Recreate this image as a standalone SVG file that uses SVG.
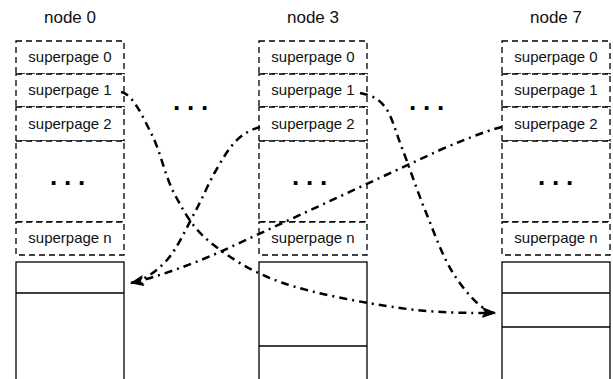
<svg xmlns="http://www.w3.org/2000/svg" width="613" height="379" viewBox="0 0 613 379">
<defs>
<style>
.title{font-family:"Liberation Sans",Arial,sans-serif;font-size:17px;fill:#111;text-anchor:middle}
.sp{font-family:"Liberation Sans",Arial,sans-serif;font-size:15px;fill:#111;text-anchor:middle}
.dots{font-family:"Liberation Sans",Arial,sans-serif;font-size:26px;font-weight:bold;fill:#000}
.dash{fill:#fff;stroke:#000;stroke-width:1.3;stroke-dasharray:6 4}
.solid{fill:#fff;stroke:#000;stroke-width:1.3}
.line{fill:none;stroke:#000;stroke-width:1.3}
.conn{fill:none;stroke:#000;stroke-width:2.5;stroke-dasharray:8 5 2 5}
</style>
<marker id="arr" markerUnits="userSpaceOnUse" viewBox="0 0 14 10" markerWidth="14" markerHeight="10" refX="13" refY="5" orient="auto">
<path d="M0,0 L14,5 L0,10 L3.5,5 Z" fill="#000"/>
</marker>
</defs>
<rect width="613" height="379" fill="#fff"/>

<g id="node0">
<text class="title" x="70" y="23">node 0</text>
<rect class="dash" x="16" y="41" width="108" height="33"/>
<text class="sp" x="70" y="62">superpage 0</text>
<rect class="dash" x="16" y="74" width="108" height="33"/>
<text class="sp" x="70" y="95">superpage 1</text>
<rect class="dash" x="16" y="107" width="108" height="34"/>
<text class="sp" x="70" y="129">superpage 2</text>
<rect class="dash" x="16" y="141" width="108" height="81"/>
<text class="dots" x="50 64 78" y="185">...</text>
<rect class="dash" x="16" y="222" width="108" height="33"/>
<text class="sp" x="70" y="243">superpage n</text>
<rect class="solid" x="16" y="262" width="108" height="140"/>
<line class="line" x1="16" y1="293" x2="124" y2="293"/>
</g>

<g id="node3">
<text class="title" x="313" y="23">node 3</text>
<rect class="dash" x="259" y="41" width="108" height="33"/>
<text class="sp" x="313" y="62">superpage 0</text>
<rect class="dash" x="259" y="74" width="108" height="33"/>
<text class="sp" x="313" y="95">superpage 1</text>
<rect class="dash" x="259" y="107" width="108" height="34"/>
<text class="sp" x="313" y="129">superpage 2</text>
<rect class="dash" x="259" y="141" width="108" height="81"/>
<text class="dots" x="292 306 320" y="185">...</text>
<rect class="dash" x="259" y="222" width="108" height="33"/>
<text class="sp" x="313" y="243">superpage n</text>
<rect class="solid" x="259" y="262" width="108" height="140"/>
<line class="line" x1="259" y1="346" x2="367" y2="346"/>
</g>

<g id="node7">
<text class="title" x="556" y="23">node 7</text>
<rect class="dash" x="502" y="41" width="108" height="33"/>
<text class="sp" x="556" y="62">superpage 0</text>
<rect class="dash" x="502" y="74" width="108" height="33"/>
<text class="sp" x="556" y="95">superpage 1</text>
<rect class="dash" x="502" y="107" width="108" height="34"/>
<text class="sp" x="556" y="129">superpage 2</text>
<rect class="dash" x="502" y="141" width="108" height="81"/>
<text class="dots" x="538 552 566" y="185">...</text>
<rect class="dash" x="502" y="222" width="108" height="33"/>
<text class="sp" x="556" y="243">superpage n</text>
<rect class="solid" x="502" y="262" width="108" height="140"/>
<line class="line" x1="502" y1="293" x2="610" y2="293"/>
<line class="line" x1="502" y1="327" x2="610" y2="327"/>
</g>

<g id="gaps">
<text class="dots" x="173 187 201" y="110">...</text>
<text class="dots" x="409 423 437" y="110">...</text>
</g>

<g id="connectors">
<path class="conn" marker-end="url(#arr)" d="M121,92 C133,94 143.3,117.8 152,135 C160.7,152.2 165.3,177.2 175,195 C184.7,212.8 192,227.3 210,242 C228,256.7 251.3,272 283,283 C314.7,294 365,303 400,308 C435,313 468,313 495,313"/>
<path class="conn" marker-end="url(#arr)" d="M260,127 C250,130 243.5,133.5 236,141 C228.5,148.5 221.8,160.2 215,172 C208.2,183.8 203,197.3 195,212 C187,226.7 177.5,248.2 167,260 C156.5,271.8 142,281.5 131,283"/>
<path class="conn" marker-end="url(#arr)" d="M502,127 C495,128 470,137 440,150 L220,252 C190,265 160,276 131,283"/>
<path class="conn" marker-end="url(#arr)" d="M360,93 C370,95 378,97.8 385,107 C392,116.2 395.3,130.8 402,148 C408.7,165.2 416.5,189.2 425,210 C433.5,230.8 442.2,255.8 453,273 C463.8,290.2 482,312 495,313"/>
</g>
</svg>
